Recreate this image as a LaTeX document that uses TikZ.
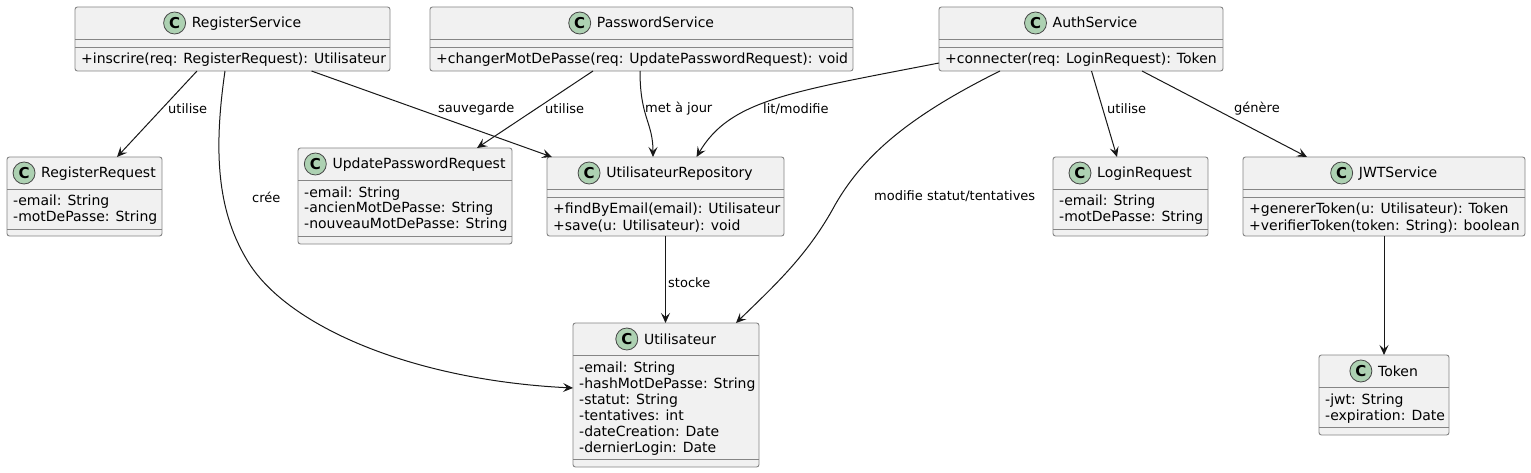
\documentclass[tikz,border=0pt]{standalone}
\usepackage{fontspec}
\setmainfont{DejaVu Sans}
\usetikzlibrary{arrows.meta}
\definecolor{cfill}{HTML}{F1F1F1}
\definecolor{cline}{HTML}{181818}
\definecolor{cbord}{HTML}{858585}
\definecolor{ccirc}{HTML}{ADD1B2}
\newcommand\mkclass[6]{%
  \node[classbox, minimum width={#5-#3}, minimum height={#6-#4}] (#1) at (#3,#4) {};
  \node[cname] (#1-t) at ({(#3+#5)/2+14},{#4+21}) {#2};
  \path (#1-t.west) ++(-17,0) coordinate (#1-cc);
  \node[cicon] (#1-c) at (#1-cc |- 0,{#4+16}) {C};
}
\newcommand\mksep[3]{\draw[sepline] (#1,#3) -- (#2,#3);}
\begin{document}
\begin{tikzpicture}[x=1pt,y=-1pt,
  classbox/.style={draw=cbord, fill=cfill, line width=0.9pt, rounded corners=2.5pt, anchor=north west, inner sep=0pt, outer sep=0pt},
  sepline/.style={draw=cbord, line width=0.9pt},
  member/.style={anchor=base west, inner sep=0pt, font=\fontsize{14}{16}\selectfont},
  cname/.style={anchor=base, inner sep=0pt, font=\fontsize{14}{16}\selectfont},
  cicon/.style={circle, draw=cline!80, fill=ccirc, line width=0.8pt, minimum size=22pt, inner sep=0pt, font=\fontsize{15}{15}\selectfont\bfseries},
  conn/.style={draw=cline, line width=1pt, -{Stealth[length=10pt,width=9pt,inset=4pt]}},
  elabel/.style={anchor=west, inner sep=0pt, font=\fontsize{13}{15}\selectfont},
]
\useasboundingbox[fill=white] (0,0) rectangle (1531,473);

% ---- classes ----
\mkclass{rs}{RegisterService}{75}{7}{390}{71}
\mksep{75}{390}{39}\mksep{75}{390}{47}
\node[member] (rs-m1) at (81,64) {+inscrire(req: RegisterRequest): Utilisateur};

\mkclass{ps}{PasswordService}{430}{7}{853}{71}
\mksep{430}{853}{39}\mksep{430}{853}{47}
\node[member] (ps-m1) at (436,64) {+changerMotDePasse(req: UpdatePasswordRequest): void};

\mkclass{as}{AuthService}{939}{7}{1223}{71}
\mksep{939}{1223}{39}\mksep{939}{1223}{47}
\node[member] (as-m1) at (945,64) {+connecter(req: LoginRequest): Token};

\mkclass{rr}{RegisterRequest}{7}{157}{162}{236}
\mksep{7}{162}{189}\mksep{7}{162}{229}
\node[member] (rr-a1) at (13,206) {-email: String};
\node[member] (rr-a2) at (13,222) {-motDePasse: String};

\mkclass{upr}{UpdatePasswordRequest}{298}{148}{512}{244}
\mksep{298}{512}{180}\mksep{298}{512}{236}
\node[member] (upr-a1) at (304,197) {-email: String};
\node[member] (upr-a2) at (304,213) {-ancienMotDePasse: String};
\node[member] (upr-a3) at (304,229) {-nouveauMotDePasse: String};

\mkclass{ur}{UtilisateurRepository}{547}{157}{784}{236}
\mksep{547}{784}{189}\mksep{547}{784}{197}
\node[member] (ur-m1) at (553,214) {+findByEmail(email): Utilisateur};
\node[member] (ur-m2) at (553,230) {+save(u: Utilisateur): void};

\mkclass{lr}{LoginRequest}{1053}{157}{1208}{236}
\mksep{1053}{1208}{189}\mksep{1053}{1208}{229}
\node[member] (lr-a1) at (1059,206) {-email: String};
\node[member] (lr-a2) at (1059,222) {-motDePasse: String};

\mkclass{jwt}{JWTService}{1243}{157}{1525}{236}
\mksep{1243}{1525}{189}\mksep{1243}{1525}{197}
\node[member] (jwt-m1) at (1249,214) {+genererToken(u: Utilisateur): Token};
\node[member] (jwt-m2) at (1249,230) {+verifierToken(token: String): boolean};

\mkclass{util}{Utilisateur}{573}{323}{759}{467}
\mksep{573}{759}{355}\mksep{573}{759}{459}
\node[member] (util-a1) at (579,372) {-email: String};
\node[member] (util-a2) at (579,388) {-hashMotDePasse: String};
\node[member] (util-a3) at (579,404) {-statut: String};
\node[member] (util-a4) at (579,420) {-tentatives: int};
\node[member] (util-a5) at (579,436) {-dateCreation: Date};
\node[member] (util-a6) at (579,452) {-dernierLogin: Date};

\mkclass{token}{Token}{1319}{355}{1449}{435}
\mksep{1319}{1449}{387}\mksep{1319}{1449}{427}
\node[member] (token-a1) at (1325,404) {-jwt: String};
\node[member] (token-a2) at (1325,420) {-expiration: Date};

% ---- connectors ----
\draw[conn] ([xshift=-35.5pt]rs.south) -- ([xshift=32.5pt]rr.north);
\node[elabel] (l1) at (168,109) {utilise};

\draw[conn] ([xshift=-7.5pt]rs.south) .. controls (212,160) and (220,215) .. (247,260)
  .. controls (285,325) and (410,380) .. ([yshift=7pt]util.west);
\node[elabel] (l2) at (252,197) {crée};

\draw[conn] ([xshift=79pt]rs.south) -- ([xshift=-113.5pt]ur.north);
\node[elabel] (l3) at (438,109) {sauvegarde};

\draw[conn] ([xshift=-48.5pt]ps.south) -- ([xshift=72pt]upr.north);
\node[elabel] (l4) at (545,109) {utilise};

\draw[conn] ([xshift=-1.5pt]ps.south) .. controls (640,118) and (653,122) .. ([xshift=-12.5pt]ur.north);
\node[elabel] (l5) at (645,109) {met à jour};

\draw[conn] ([yshift=-24pt]as.west) .. controls (790,92) and (730,100) .. ([xshift=31pt]ur.north);
\node[elabel] (l6) at (763,109) {lit/modifie};

\draw[conn] ([xshift=-81pt]as.south) .. controls (905,118) and (862,158) .. (835,205)
  .. controls (808,255) and (775,285) .. ([xshift=70pt]util.north);
\node[elabel] (l7) at (874,196) {modifie statut/tentatives};

\draw[conn] ([xshift=10.5pt]as.south) -- ([xshift=-13.5pt]lr.north);
\node[elabel] (l8) at (1107,109) {utilise};

\draw[conn] ([xshift=61pt]as.south) -- ([xshift=-77pt]jwt.north);
\node[elabel] (l9) at (1234,109) {génère};

\draw[conn] (jwt.south) -- (token.north);

\draw[conn] (ur.south) -- (ur.south |- util.north);
\node[elabel] (l10) at (668,283) {stocke};
\end{tikzpicture}
\end{document}
